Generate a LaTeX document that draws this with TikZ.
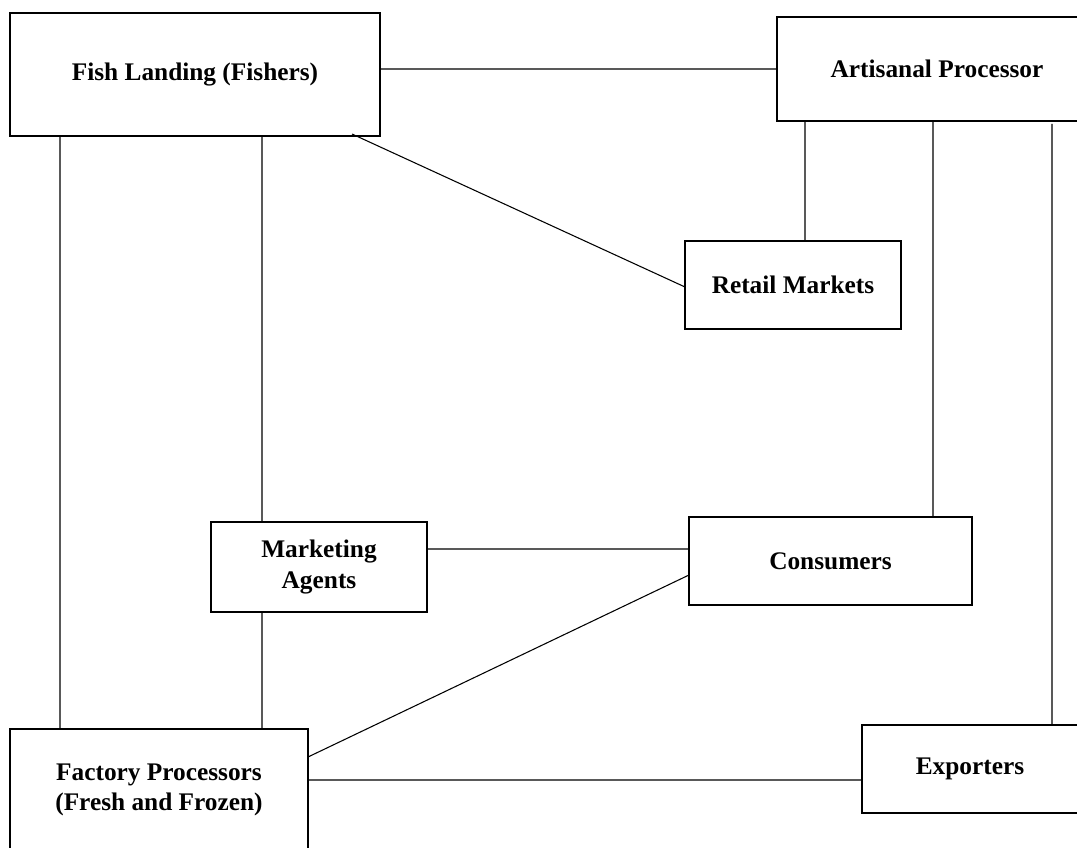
\documentclass[tikz,border=0pt]{standalone}
\usepackage{fontspec}
\setmainfont{Liberation Serif}
\usetikzlibrary{positioning, calc}

\tikzset{
	box/.style={draw, line width=1pt, align=center, inner sep=0pt, outer sep=0pt,
		font=\fontsize{19}{23}\selectfont\bfseries},
}

\begin{document}
\begin{tikzpicture}[x=0.75pt, y=-0.75pt, line width=0.8pt]
	\useasboundingbox (0,0) rectangle (1077,848);

	% sizes in pt (one pixel is 0.75pt)
	\node[box, minimum width=277.5pt, minimum height=92.25pt] (fish) at (195,74.5) {Fish Landing (Fishers)};
	\node[box, minimum width=240pt, minimum height=78pt] (art) at (937,69) {Artisanal Processor};
	\node[box, minimum width=162pt, minimum height=66pt] (retail) at (793,285) {Retail Markets};
	\node[box, minimum width=162pt, minimum height=67.5pt] (mkt) at (319,567) {Marketing\\Agents};
	\node[box, minimum width=212.25pt, minimum height=66pt] (cons) at (830.5,561) {Consumers};
	\node[box, minimum width=223.5pt, minimum height=91.5pt] (fact) at (159,790) {Factory Processors\\(Fresh and Frozen)};
	\node[box, minimum width=162pt, minimum height=66pt] (exp) at (970,769) {Exporters};

	\draw
		(fish.east |- art.west) -- (art.west)
		($(fish.south west)+(50,0)$) -- ($(fact.north west)+(50,0)$)
		($(fish.south west)+(252,0)$) -- ($(mkt.north west)+(51,0)$)
		($(fish.south east)+(-28,-2)$) -- ($(retail.west)+(0,2)$)

		($(art.south west)+(28,0)$) -- ($(retail.north west)+(120,0)$)
		($(art.south west)+(156,0)$) -- ($(cons.north east)+(-39,0)$)
		($(art.south west)+(275,3)$) -- ($(exp.north west)+(190,0)$)

		($(mkt.north east)+(0,27)$) -- ($(cons.north west)+(0,32)$)
		($(mkt.south west)+(51,0)$) -- ($(fact.north west)+(252,0)$)

		($(fact.north east)+(0,28)$) -- ($(cons.south west)+(0,-30)$)
		($(fact.north east)+(0,51)$) -- ($(exp.north west)+(0,55)$)
		;
\end{tikzpicture}
\end{document}
